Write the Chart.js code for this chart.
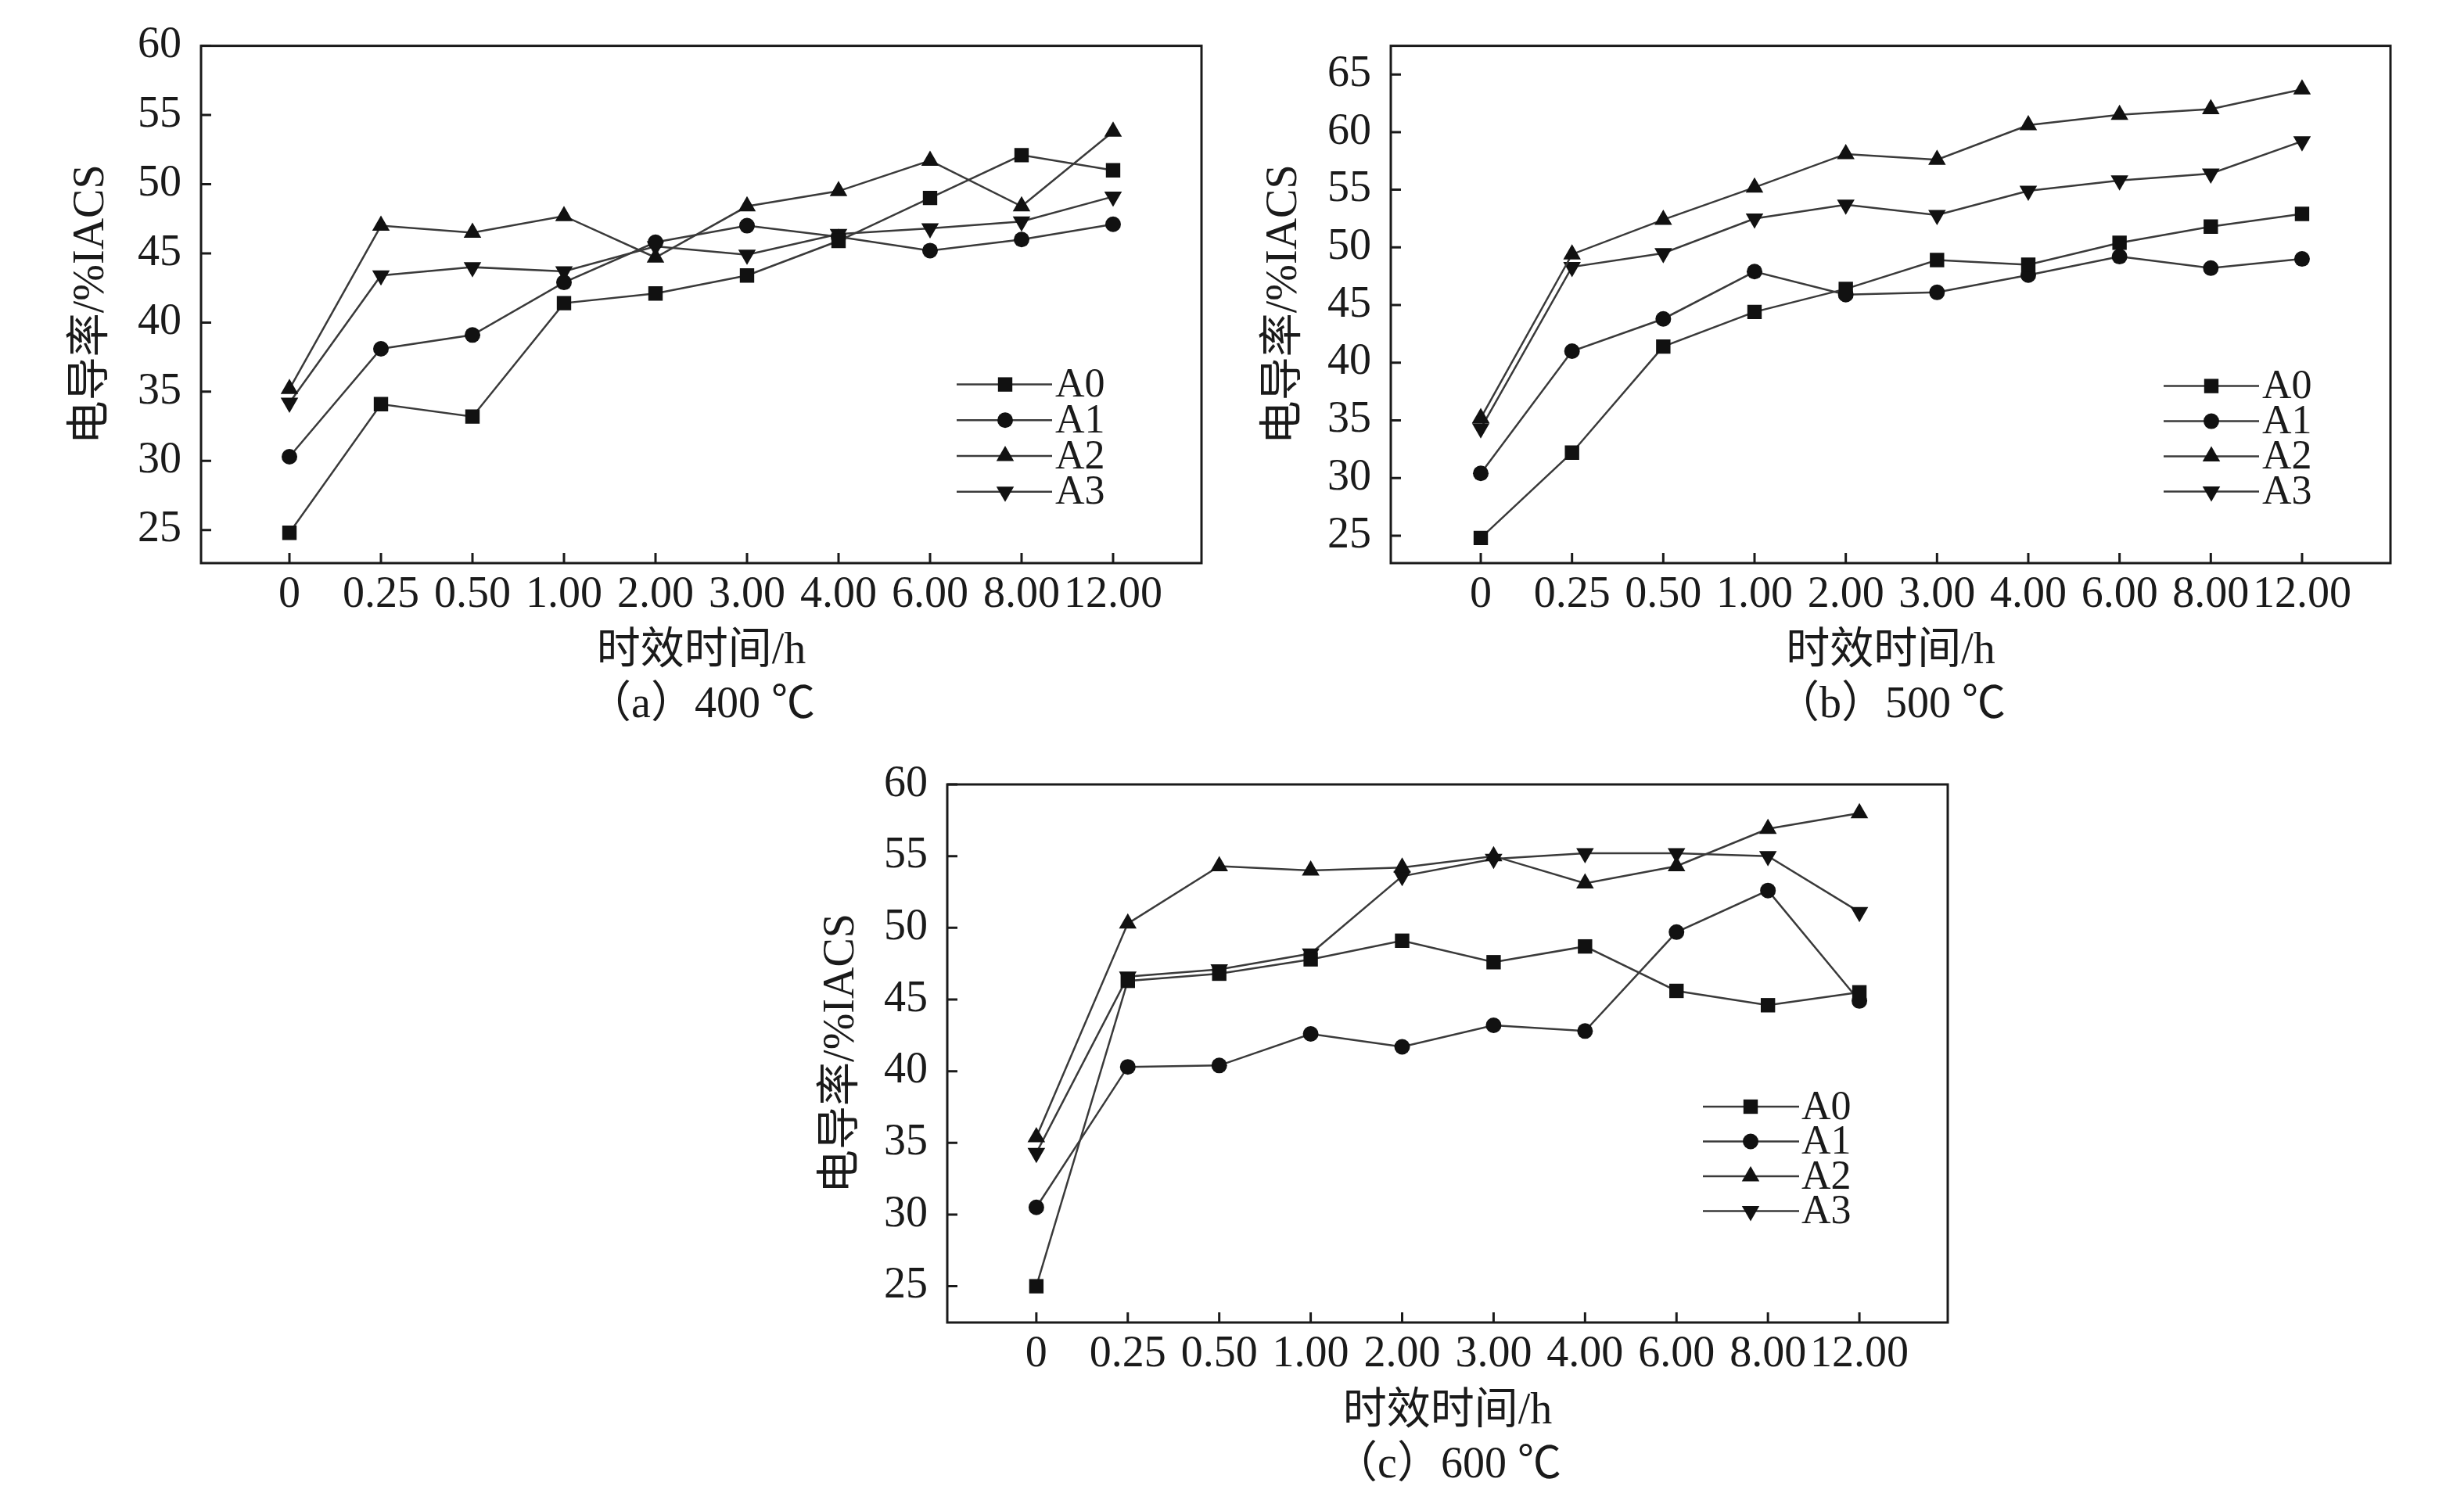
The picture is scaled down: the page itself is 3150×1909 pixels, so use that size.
<!DOCTYPE html>
<html><head><meta charset="utf-8">
<script src="https://cdn.jsdelivr.net/npm/chart.js@4.4.1/dist/chart.umd.min.js"></script>
<style>
html,body{margin:0;padding:0;background:#fff;width:3150px;height:1909px;overflow:hidden;position:relative}
canvas{position:absolute}
</style></head><body>
<canvas id="ca" width="1575" height="937" style="left:0px;top:0px;width:1575px;height:937px"></canvas>
<canvas id="cb" width="1575" height="937" style="left:1575px;top:0px;width:1575px;height:937px"></canvas>
<canvas id="cc" width="1575" height="969" style="left:1000px;top:940px;width:1575px;height:969px"></canvas>
<script>
// ---- data ----
const timeLabels = ['0', '0.25', '0.50', '1.00', '2.00', '3.00', '4.00', '6.00', '8.00', '12.00'];
const seriesNames = ['A0', 'A1', 'A2', 'A3'];

const t400_A0 = [24.8, 34.1, 33.2, 41.4, 42.1, 43.4, 45.9, 49.0, 52.1, 51.0];
const t400_A1 = [30.3, 38.1, 39.1, 42.9, 45.8, 47.0, 46.2, 45.2, 46.0, 47.1];
const t400_A2 = [35.2, 47.0, 46.5, 47.7, 44.7, 48.4, 49.5, 51.7, 48.4, 53.8];
const t400_A3 = [34.2, 43.4, 44.0, 43.7, 45.5, 44.9, 46.4, 46.8, 47.3, 49.1];

const t500_A0 = [24.8, 32.2, 41.4, 44.4, 46.4, 48.9, 48.5, 50.4, 51.8, 52.9];
const t500_A1 = [30.4, 41.0, 43.8, 47.9, 45.9, 46.1, 47.6, 49.2, 48.2, 49.0];
const t500_A2 = [35.2, 49.4, 52.4, 55.2, 58.1, 57.6, 60.6, 61.5, 62.0, 63.7];
const t500_A3 = [34.3, 48.3, 49.5, 52.5, 53.7, 52.8, 54.9, 55.8, 56.4, 59.2];

const t600_A0 = [25.0, 46.3, 46.8, 47.8, 49.1, 47.6, 48.7, 45.6, 44.6, 45.5];
const t600_A1 = [30.5, 40.3, 40.4, 42.6, 41.7, 43.2, 42.8, 49.7, 52.6, 44.9];
const t600_A2 = [35.4, 50.3, 54.3, 54.0, 54.2, 55.0, 53.1, 54.3, 56.9, 58.0];
const t600_A3 = [34.3, 46.6, 47.1, 48.2, 53.6, 54.8, 55.2, 55.2, 55.0, 51.1];

const yTicks400 = [25, 30, 35, 40, 45, 50, 55, 60];
const yTicks500 = [25, 30, 35, 40, 45, 50, 55, 60, 65];
const yTicks600 = [25, 30, 35, 40, 45, 50, 55, 60];

const xTitle = '时效时间/h';
const yTitle = '电导率/%IACS';
const caption400 = '（a）400 ℃';
const caption500 = '（b）500 ℃';
const caption600 = '（c）600 ℃';

// ---- styling ----
const FONT = "'Liberation Serif', 'Times New Roman', 'Noto Sans CJK SC', serif";
const TXT = '#1a1a1a';
const LINE = '#3a3a3a';
const MARK = '#111';
const pStyles = ['rect', 'circle', 'triangle', 'triangle'];
const pRot = [0, 0, 0, 180];
const pRad = [13, 10, 13, 13];

function drawMarker(ctx, style, rot, r, x, y) {
  ctx.save();
  ctx.translate(x, y);
  ctx.rotate(rot * Math.PI / 180);
  ctx.beginPath();
  if (style === 'rect') {
    const s = Math.SQRT1_2 * r;
    ctx.rect(-s, -s, 2 * s, 2 * s);
  } else if (style === 'circle') {
    ctx.arc(0, 0, r, 0, Math.PI * 2);
  } else {
    for (let k = 0; k < 3; k++) {
      const a = k * 2 * Math.PI / 3;
      const px = Math.sin(a) * r, py = -Math.cos(a) * r;
      if (k === 0) ctx.moveTo(px, py); else ctx.lineTo(px, py);
    }
    ctx.closePath();
  }
  ctx.fillStyle = MARK;
  ctx.fill();
  ctx.restore();
}

const framePlugin = {
  id: 'frameTicks',
  afterDraw(chart) {
    const ctx = chart.ctx, a = chart.chartArea;
    const xs = chart.scales.x, ys = chart.scales.y;
    ctx.save();
    ctx.strokeStyle = '#1a1a1a';
    ctx.lineWidth = 3;
    ctx.beginPath();
    xs.ticks.forEach(t => {
      const px = xs.getPixelForValue(t.value);
      ctx.moveTo(px, a.bottom); ctx.lineTo(px, a.bottom - 13);
    });
    ys.ticks.forEach(t => {
      const py = ys.getPixelForValue(t.value);
      ctx.moveTo(a.left, py); ctx.lineTo(a.left + 13, py);
    });
    ctx.stroke();
    ctx.strokeRect(a.left, a.top, a.right - a.left, a.bottom - a.top);
    ctx.restore();
  }
};

const legendPlugin = {
  id: 'inLegend',
  afterDraw(chart, args, o) {
    const ctx = chart.ctx, a = chart.chartArea;
    ctx.save();
    chart.data.datasets.forEach((ds, i) => {
      const y = a.top + o.top + i * o.step;
      ctx.strokeStyle = LINE;
      ctx.lineWidth = 2.5;
      ctx.beginPath();
      ctx.moveTo(a.right - o.lineFrom, y);
      ctx.lineTo(a.right - o.lineTo, y);
      ctx.stroke();
      drawMarker(ctx, pStyles[i], pRot[i], pRad[i], a.right - o.marker, y);
      ctx.fillStyle = TXT;
      ctx.font = '52px ' + FONT;
      ctx.textBaseline = 'middle';
      ctx.textAlign = 'left';
      ctx.fillText(ds.label, a.right - o.text, y + 2);
    });
    ctx.restore();
  }
};

function makeChart(id, series, cfg) {
  const datasets = series.map((vals, i) => ({
    label: seriesNames[i],
    data: vals.map((v, k) => ({ x: k, y: v })),
    borderColor: LINE,
    borderWidth: 2.5,
    pointStyle: pStyles[i],
    pointRotation: pRot[i],
    pointRadius: pRad[i],
    pointBackgroundColor: MARK,
    pointBorderColor: MARK,
    pointBorderWidth: 0,
    tension: 0,
    fill: false
  }));
  return new Chart(document.getElementById(id), {
    type: 'line',
    data: { datasets },
    plugins: [framePlugin, legendPlugin],
    options: {
      responsive: false,
      animation: false,
      devicePixelRatio: 1,
      layout: { padding: { left: cfg.padL, top: cfg.padT, right: cfg.padR, bottom: 0 } },
      plugins: {
        legend: { display: false },
        tooltip: { enabled: false },
        title: {
          display: true, text: cfg.caption, position: 'bottom', fullSize: false,
          padding: 0, color: TXT, font: { family: FONT, size: 56, weight: 'normal', lineHeight: '69px' }
        },
        inLegend: cfg.legend
      },
      scales: {
        x: {
          type: 'linear', min: cfg.xMin, max: cfg.xMax,
          afterBuildTicks: s => { s.ticks = timeLabels.map((_, k) => ({ value: k })); },
          afterFit: s => { s.height = cfg.xH; },
          ticks: {
            padding: 8, color: TXT, autoSkip: false, maxRotation: 0, minRotation: 0,
            font: { family: FONT, size: 56 },
            callback: v => (timeLabels[v] !== undefined ? timeLabels[v] : '')
          },
          grid: { display: false, drawTicks: false },
          border: { display: false },
          title: {
            display: true, text: xTitle, padding: 0, color: TXT,
            font: { family: FONT, size: 56, lineHeight: '69px' }
          }
        },
        y: {
          type: 'linear', min: cfg.yMin, max: cfg.yMax,
          afterBuildTicks: s => { s.ticks = cfg.yTicks.map(v => ({ value: v })); },
          afterFit: s => { s.width = cfg.yW; },
          ticks: { padding: 25, color: TXT, font: { family: FONT, size: 56 } },
          grid: { display: false, drawTicks: false },
          border: { display: false },
          title: {
            display: true, text: yTitle, padding: 0, color: TXT,
            font: { family: FONT, size: 56 }
          }
        }
      }
    }
  });
}

makeChart('ca', [t400_A0, t400_A1, t400_A2, t400_A3], {
  caption: caption400, padL: 84, padT: 32, padR: 39, yW: 173, xH: 148,
  xMin: -0.966, xMax: 9.966, yMin: 22.61, yMax: 60, yTicks: yTicks400,
  legend: { top: 433, step: 45.7, lineFrom: 313, lineTo: 191, marker: 251, text: 187 }
});
makeChart('cb', [t500_A0, t500_A1, t500_A2, t500_A3], {
  caption: caption500, padL: 34, padT: 32, padR: 94, yW: 169, xH: 148,
  xMin: -0.986, xMax: 9.969, yMin: 22.62, yMax: 67.48, yTicks: yTicks500,
  legend: { top: 435, step: 45, lineFrom: 290, lineTo: 168, marker: 229, text: 164 }
});
makeChart('cc', [t600_A0, t600_A1, t600_A2, t600_A3], {
  caption: caption600, padL: 43, padT: 63, padR: 85, yW: 168, xH: 149,
  xMin: -0.974, xMax: 9.966, yMin: 22.47, yMax: 60, yTicks: yTicks600,
  legend: { top: 412, step: 44.5, lineFrom: 313, lineTo: 190, marker: 252, text: 187 }
});
</script>
</body></html>
